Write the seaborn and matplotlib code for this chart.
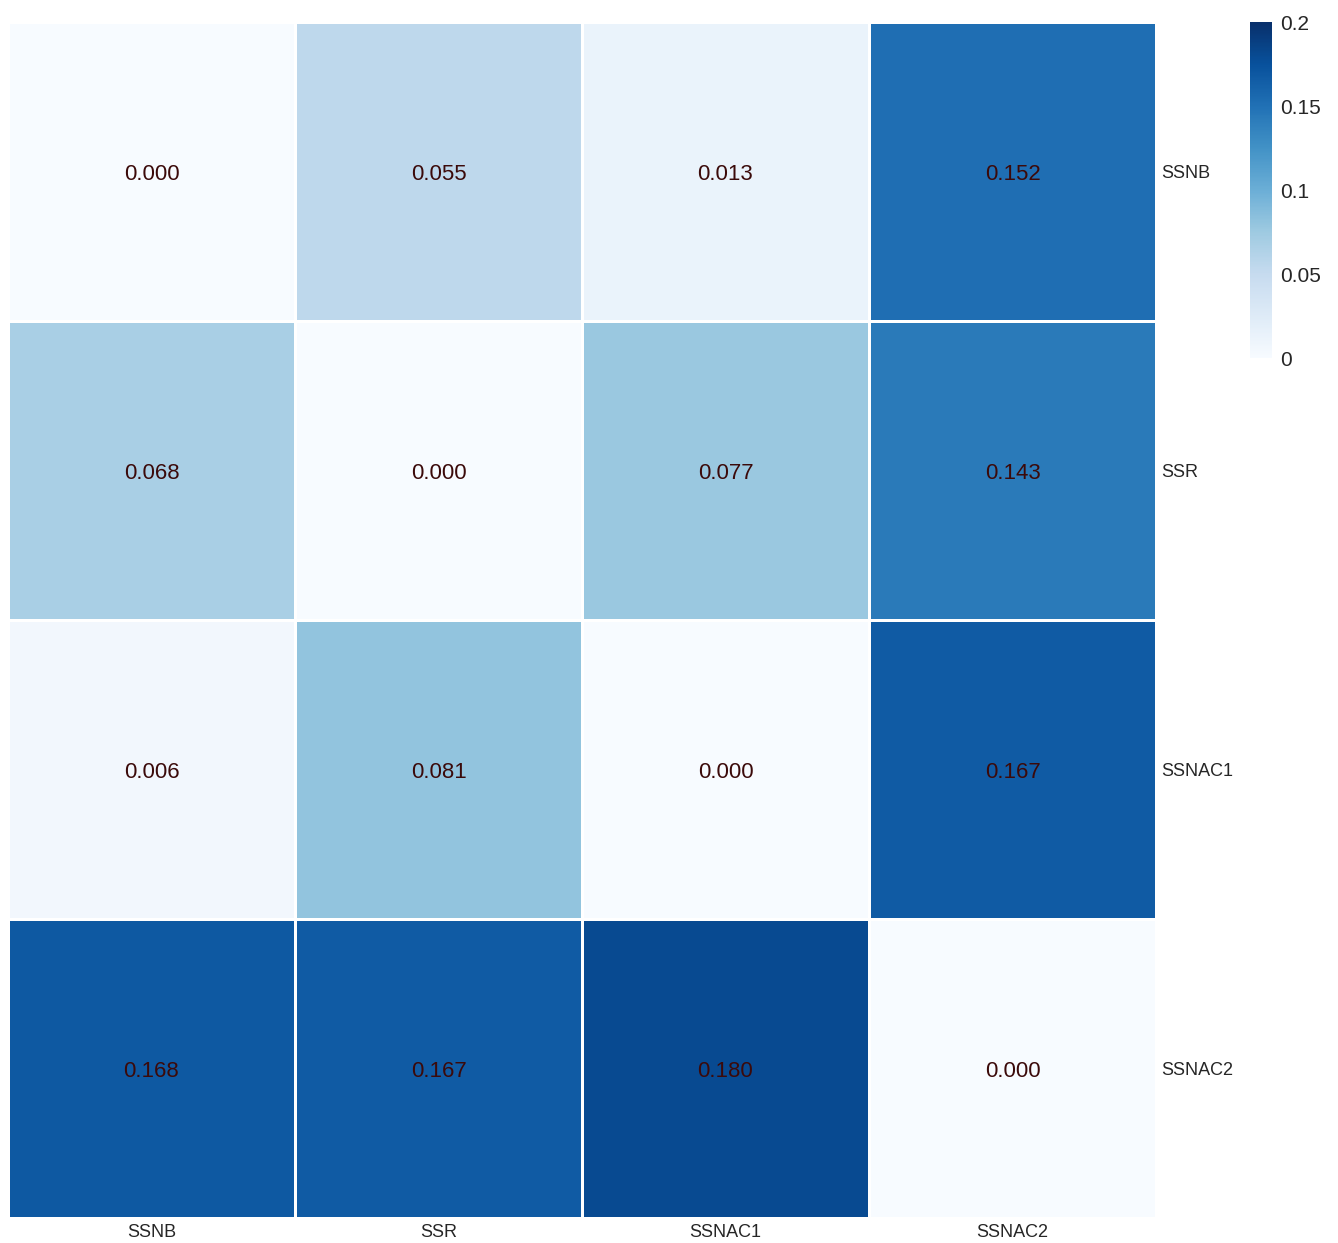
import numpy as np
import pandas as pd
import matplotlib
matplotlib.use("Agg")
import matplotlib.pyplot as plt
import seaborn as sns

# Matrix values
row_labels = ["SSNB", "SSR", "SSNAC1", "SSNAC2"]
col_labels = ["SSNB", "SSR", "SSNAC1", "SSNAC2"]
row_ssnb = [0.000, 0.055, 0.013, 0.152]
row_ssr = [0.068, 0.000, 0.077, 0.143]
row_ssnac1 = [0.006, 0.081, 0.000, 0.167]
row_ssnac2 = [0.168, 0.167, 0.180, 0.000]
cbar_ticks = [0, 0.05, 0.1, 0.15, 0.2]
cbar_labels = ["0", "0.05", "0.1", "0.15", "0.2"]

data = pd.DataFrame([row_ssnb, row_ssr, row_ssnac1, row_ssnac2],
                    index=row_labels, columns=col_labels)

sns.set_style("white")
plt.rcParams["font.family"] = ["Liberation Sans", "DejaVu Sans"]

W, H = 1338, 1243
fig = plt.figure(figsize=(W / 100, H / 100), dpi=100)
ax = fig.add_axes([8 / W, 1 - 1218 / H, (1156 - 8) / W, (1218 - 22) / H])
cax = fig.add_axes([1250 / W, 1 - 358 / H, 22 / W, (358 - 22) / H])

sns.heatmap(data, ax=ax, cbar_ax=cax, cmap="Blues", vmin=0, vmax=0.2,
            annot=True, fmt=".3f", linewidths=1, linecolor="white",
            annot_kws={"color": "#3b0a0a", "fontsize": 16},
            cbar_kws={"ticks": cbar_ticks})

# nudge annotations slightly down to sit like the original
for t in ax.texts:
    t.set_y(t.get_position()[1] + 0.01)

ax.yaxis.tick_right()
ax.set_yticklabels(row_labels, rotation=0, fontsize=13)
ax.set_xticklabels(col_labels, rotation=0, fontsize=13)
ax.tick_params(axis="both", length=0, pad=4)
ax.set_xlabel("")
ax.set_ylabel("")

cax.set_yticklabels(cbar_labels, fontsize=15)
cax.tick_params(length=0, pad=6)
for sp in cax.spines.values():
    sp.set_visible(False)

fig.savefig("out.png", dpi=100)
